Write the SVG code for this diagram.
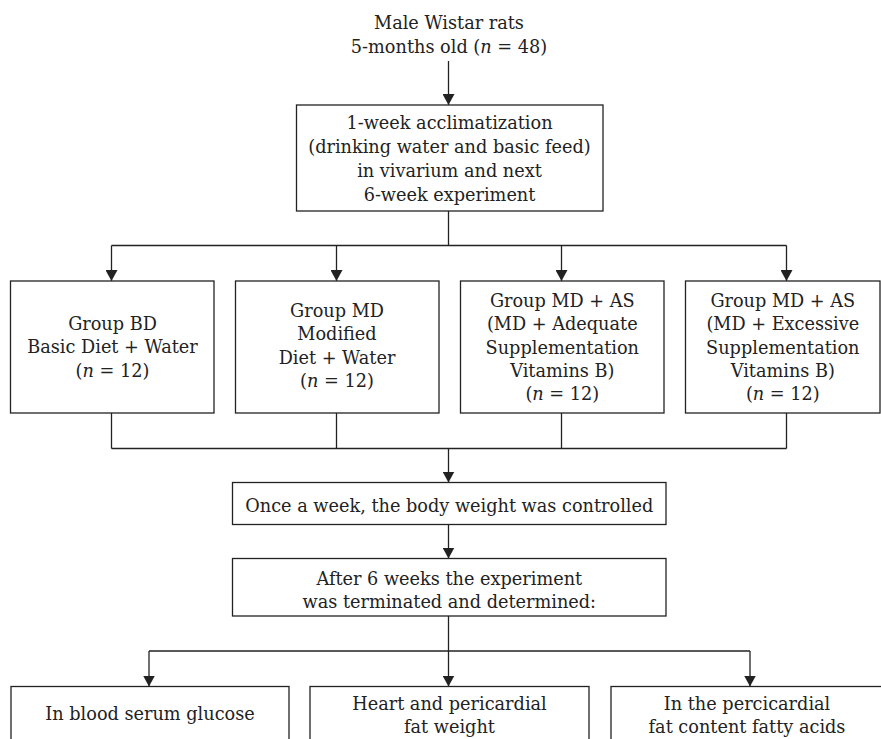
<svg xmlns="http://www.w3.org/2000/svg" width="881" height="739" viewBox="0 0 881 739">
<style>
  .box { fill: #ffffff; stroke: #222222; stroke-width: 1.3; }
  .t { font-family: 'DejaVu Serif', 'Liberation Serif', serif; font-size: 17.7px; fill: #222222; text-anchor: middle; }
  .ln { fill: none; stroke: #222222; stroke-width: 1.3; }
  .i { font-style: italic; }
</style>
<defs>
  <marker id="ah" viewBox="0 0 11 12" refX="11" refY="6" markerWidth="11" markerHeight="12" markerUnits="userSpaceOnUse" orient="auto">
    <path d="M0,0 L11,6 L0,12 Z" fill="#222222"/>
  </marker>
</defs>
<rect width="881" height="739" fill="#ffffff"/>

<g id="connectors">
  <line class="ln" x1="448.5" y1="61" x2="448.5" y2="105" marker-end="url(#ah)"/>
  <line class="ln" x1="448.5" y1="211" x2="448.5" y2="245.5"/>
  <line class="ln" x1="111.5" y1="245.5" x2="786.5" y2="245.5"/>
  <line class="ln" x1="111.5" y1="245.5" x2="111.5" y2="281" marker-end="url(#ah)"/>
  <line class="ln" x1="336.5" y1="245.5" x2="336.5" y2="281" marker-end="url(#ah)"/>
  <line class="ln" x1="561.5" y1="245.5" x2="561.5" y2="281" marker-end="url(#ah)"/>
  <line class="ln" x1="786.5" y1="245.5" x2="786.5" y2="281" marker-end="url(#ah)"/>
  <line class="ln" x1="111.5" y1="413" x2="111.5" y2="448.5"/>
  <line class="ln" x1="336.5" y1="413" x2="336.5" y2="448.5"/>
  <line class="ln" x1="561.5" y1="413" x2="561.5" y2="448.5"/>
  <line class="ln" x1="786.5" y1="413" x2="786.5" y2="448.5"/>
  <line class="ln" x1="111.5" y1="448.5" x2="786.5" y2="448.5"/>
  <line class="ln" x1="448.5" y1="448.5" x2="448.5" y2="482.5" marker-end="url(#ah)"/>
  <line class="ln" x1="448.5" y1="524.5" x2="448.5" y2="558.5" marker-end="url(#ah)"/>
  <line class="ln" x1="448.5" y1="616" x2="448.5" y2="651"/>
  <line class="ln" x1="149" y1="651" x2="750" y2="651"/>
  <line class="ln" x1="149" y1="651" x2="149" y2="686.5" marker-end="url(#ah)"/>
  <line class="ln" x1="448.5" y1="651" x2="448.5" y2="686.5" marker-end="url(#ah)"/>
  <line class="ln" x1="750" y1="651" x2="750" y2="686.5" marker-end="url(#ah)"/>
</g>

<g id="start">
  <text class="t" x="449" y="28.5">Male Wistar rats</text>
  <text class="t" x="449" y="52.5">5-months old (<tspan class="i">n</tspan> = 48)</text>
</g>

<g id="acclimatization">
  <rect class="box" x="296.5" y="105" width="306.5" height="106"/>
  <text class="t" x="449.5" y="128.5">1-week acclimatization</text>
  <text class="t" x="449.5" y="152.5">(drinking water and basic feed)</text>
  <text class="t" x="449.5" y="176.5">in vivarium and next</text>
  <text class="t" x="449.5" y="200.5">6-week experiment</text>
</g>

<g id="group-bd">
  <rect class="box" x="10.5" y="281" width="203.5" height="132"/>
  <text class="t" x="112.5" y="330">Group BD</text>
  <text class="t" x="112.5" y="353.4">Basic Diet + Water</text>
  <text class="t" x="112.5" y="376.8">(<tspan class="i">n</tspan> = 12)</text>
</g>

<g id="group-md">
  <rect class="box" x="235.5" y="281" width="203.5" height="132"/>
  <text class="t" x="337" y="316.7">Group MD</text>
  <text class="t" x="337" y="340.1">Modified</text>
  <text class="t" x="337" y="363.5">Diet + Water</text>
  <text class="t" x="337" y="386.9">(<tspan class="i">n</tspan> = 12)</text>
</g>

<g id="group-md-as-adequate">
  <rect class="box" x="460.5" y="281" width="203.5" height="132"/>
  <text class="t" x="562.3" y="306.7">Group MD + AS</text>
  <text class="t" x="562.3" y="330.1">(MD + Adequate</text>
  <text class="t" x="562.3" y="353.5">Supplementation</text>
  <text class="t" x="562.3" y="376.9">Vitamins B)</text>
  <text class="t" x="562.3" y="400.3">(<tspan class="i">n</tspan> = 12)</text>
</g>

<g id="group-md-as-excessive">
  <rect class="box" x="685.5" y="281" width="194.5" height="132"/>
  <text class="t" x="782.8" y="306.7">Group MD + AS</text>
  <text class="t" x="782.8" y="330.1">(MD + Excessive</text>
  <text class="t" x="782.8" y="353.5">Supplementation</text>
  <text class="t" x="782.8" y="376.9">Vitamins B)</text>
  <text class="t" x="782.8" y="400.3">(<tspan class="i">n</tspan> = 12)</text>
</g>

<g id="weight-control">
  <rect class="box" x="232.5" y="482.5" width="433.5" height="42"/>
  <text class="t" x="449.3" y="511.5">Once a week, the body weight was controlled</text>
</g>

<g id="termination">
  <rect class="box" x="232.5" y="558.5" width="433.5" height="57.5"/>
  <text class="t" x="449.3" y="585">After 6 weeks the experiment</text>
  <text class="t" x="449.3" y="608.4">was terminated and determined:</text>
</g>

<g id="glucose">
  <rect class="box" x="11" y="686.5" width="278" height="60"/>
  <text class="t" x="150" y="720">In blood serum glucose</text>
</g>

<g id="heart-fat">
  <rect class="box" x="310" y="686.5" width="279" height="60"/>
  <text class="t" x="449.5" y="709.5">Heart and pericardial</text>
  <text class="t" x="449.5" y="732.5">fat weight</text>
</g>

<g id="fatty-acids">
  <rect class="box" x="611" y="686.5" width="280" height="60"/>
  <text class="t" x="747" y="709.5">In the percicardial</text>
  <text class="t" x="747" y="732.5">fat content fatty acids</text>
</g>
</svg>
